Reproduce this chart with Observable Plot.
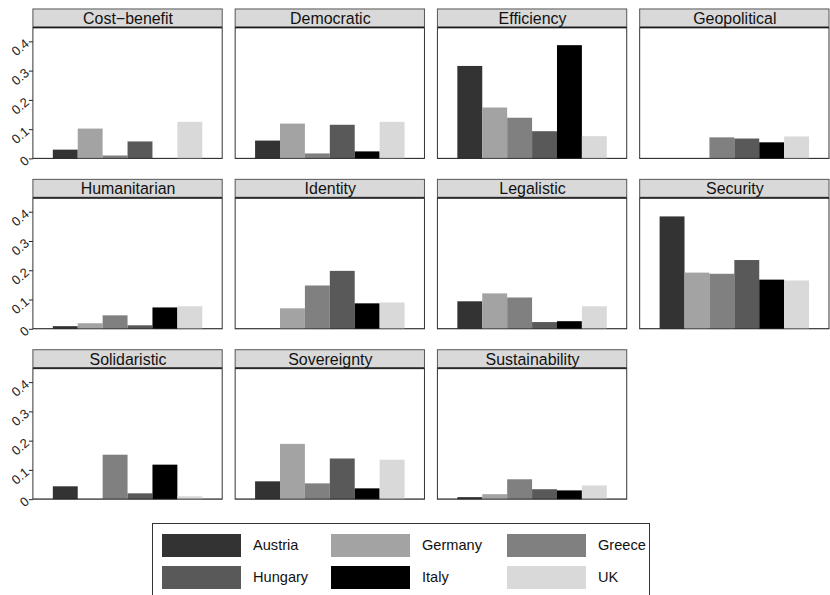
<!DOCTYPE html>
<html><head><meta charset="utf-8">
<script src="https://cdn.jsdelivr.net/npm/d3@7"></script>
<script src="https://cdn.jsdelivr.net/npm/@observablehq/plot@0.6"></script>
<style>
html,body{margin:0;padding:0;background:#fff;overflow:hidden;width:830px;height:595px;}
#wrap{position:relative;width:830px;height:595px;font-family:"Liberation Sans",Arial,sans-serif;overflow:hidden;}
#chart{position:absolute;left:0;top:0;}
#legend{position:absolute;left:152px;top:523px;width:498px;height:90px;border:1px solid #333;box-sizing:border-box;background:#fff;}
.sw{position:absolute;width:79px;height:23px;}
.lb{position:absolute;font-size:14.6px;color:#111;line-height:23px;height:23px;white-space:nowrap;}
</style></head><body>
<div id="wrap"><div id="chart"></div><div id="legend"></div></div>
<script>
const categories = ["Cost\u2212benefit","Democratic","Efficiency","Geopolitical","Humanitarian","Identity","Legalistic","Security","Solidaristic","Sovereignty","Sustainability"];
const countries = ["Austria","Germany","Greece","Hungary","Italy","UK"];
const colors = ["#333333","#a3a3a3","#808080","#595959","#000000","#d9d9d9"];
const austria = [0.030,0.061,0.316,0.000,0.009,0.000,0.094,0.384,0.044,0.061,0.007];
const germany = [0.102,0.119,0.174,0.000,0.019,0.070,0.121,0.192,0.000,0.189,0.017];
const greece  = [0.010,0.017,0.139,0.072,0.046,0.148,0.107,0.188,0.152,0.054,0.068];
const hungary = [0.058,0.115,0.093,0.068,0.012,0.198,0.023,0.235,0.020,0.139,0.034];
const italy   = [0.000,0.024,0.387,0.055,0.073,0.087,0.026,0.168,0.118,0.037,0.030];
const uk      = [0.125,0.125,0.076,0.075,0.077,0.090,0.077,0.165,0.010,0.135,0.047];
const yTicks = [0,0.1,0.2,0.3,0.4];
const yTickLabels = ["0","0.1","0.2","0.3","0.4"];

const series = [austria,germany,greece,hungary,italy,uk];
const cats = categories.map((name,i)=>({name, col: i%4, row: Math.floor(i/4)}));
const data = [];
categories.forEach((c,i)=>countries.forEach((k,j)=>data.push({cat:c, col:i%4, row:Math.floor(i/4), country:k, value:series[j][i]})));

const stripH = 19, bodyH = 132;
const chart = Plot.plot({
  width: 833, height: 512,
  marginLeft: 32, marginRight: 0, marginTop: 8, marginBottom: 9,
  style: {fontFamily: '"Liberation Sans", Arial, sans-serif', background: "#fff", overflow: "visible"},
  fx: {axis: null, domain: [0,1,2,3], paddingInner: 0.0663, paddingOuter: 0},
  fy: {axis: null, domain: [0,1,2], paddingInner: 0.122, paddingOuter: 0},
  x: {domain: countries, paddingInner: 0, paddingOuter: 0.7, axis: null},
  y: {domain: [0, 0.446], insetTop: stripH, axis: null},
  color: {domain: countries, range: colors},
  marks: [
    Plot.rect(cats, {fx: "col", fy: "row", fill: "#fff", stroke: "#333", strokeWidth: 1, insetTop: stripH}),
    Plot.barY(data, {fx: "col", fy: "row", x: "country", y: "value", fill: "country"}),
    Plot.rect(cats, {fx: "col", fy: "row", fill: "#d9d9d9", stroke: "#555", strokeWidth: 1, insetBottom: bodyH}),
    Plot.rect(cats, {fx: "col", fy: "row", fill: "#111", insetTop: stripH - 1, insetBottom: bodyH - 1}),
    Plot.rect(cats, {fx: "col", fy: "row", fill: "#222", insetTop: stripH + bodyH - 1.5}),
    Plot.text(cats, {fx: "col", fy: "row", text: "name", frameAnchor: "top", lineAnchor: "middle", dy: 9.5, fontSize: 16, fill: "#111"}),
    Plot.axisY({ticks: yTicks, tickFormat: d => yTickLabels[yTicks.indexOf(d)], label: null, tickSize: 4, tickPadding: 2, tickRotate: -40, fontSize: 13, stroke: "#222", fill: "#222"})
  ]
});
document.getElementById("chart").appendChild(chart);

const legend = document.getElementById("legend");
const colX = [9, 178, 354];
const rowY = [10, 42];
countries.forEach((k,i)=>{
  const c = i%3, r = Math.floor(i/3);
  const sw = document.createElement("div");
  sw.className = "sw"; sw.style.left = colX[c]+"px"; sw.style.top = rowY[r]+"px"; sw.style.background = colors[i];
  legend.appendChild(sw);
  const lb = document.createElement("div");
  lb.className = "lb"; lb.style.left = (colX[c]+91)+"px"; lb.style.top = rowY[r]+"px"; lb.textContent = k;
  legend.appendChild(lb);
});
</script>
</body></html>
